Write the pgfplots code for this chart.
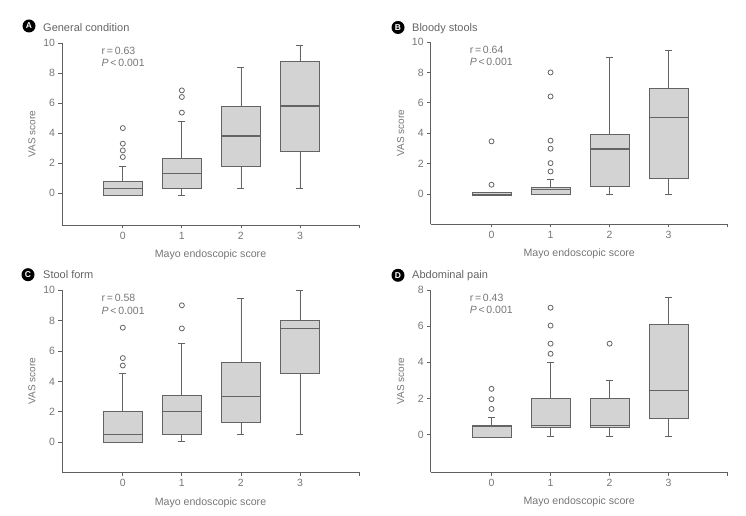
\documentclass[border=0pt]{standalone}
\usepackage{pgfplots}
\pgfplotsset{compat=1.18}
\usepgfplotslibrary{statistics}
\usepackage{fontspec}
\setmainfont{Liberation Sans}
\definecolor{axisgray}{HTML}{606060}
\definecolor{boxedge}{HTML}{646464}
\definecolor{boxfill}{HTML}{D3D3D3}
\definecolor{textgray}{HTML}{767676}
\pgfplotsset{
 panel/.style={
  scale only axis, width=297pt, height=182pt,
  xmin=-1.03, xmax=4.0,
  axis lines*=left,
  axis line style={draw=axisgray, line width=0.8pt},
  xtick={0,1,2,3,4}, xticklabels={0,1,2,3,{}},
  tick style={draw=axisgray, line width=0.8pt},
  tick align=outside, major tick length=3.5pt,
  /pgf/number format/assume math mode=true,
  tick label style={font=\fontsize{10.5}{12}\selectfont, text=textgray},
  xlabel={Mayo endoscopic score}, ylabel={VAS score},
  every axis x label/.style={at={(axis description cs:0.5,0)}, yshift=-30pt, anchor=center, font=\fontsize{10.6}{12}\selectfont, text=textgray},
  every axis y label/.style={at={(axis description cs:0,0.5)}, xshift=-30pt, rotate=90, anchor=center, font=\fontsize{10}{12}\selectfont, text=textgray},
  boxplot/draw direction=y,
  boxplot/box extend=0.66, boxplot/whisker extend=0.12,
  clip=false,
 },
 bp/.style={draw=boxedge, fill=boxfill, line width=0.8pt, mark=o, mark size=2.5pt,
   mark options={draw=boxedge, line width=0.8pt, fill=none},
   boxplot/every median/.style={draw=boxedge, line width=1.1pt}},
}
\tikzset{
 rnote/.style={anchor=north west, align=left, inner sep=0pt, font=\fontsize{10.5}{12.7}\selectfont, text=textgray},
 badge/.style={circle, fill=black, inner sep=0pt, minimum size=13pt, text=white, font=\bfseries\fontsize{8.5}{8.5}\selectfont},
 ptitle/.style={anchor=base west, inner sep=0pt, font=\fontsize{11}{13}\selectfont, text=textgray!85!black},
}
\begin{document}
\begin{tikzpicture}[x=1pt,y=1pt]
\useasboundingbox (0,0) rectangle (746,516);

% ---------------- A
\node[badge] at (29,490) {A};
\node[ptitle] at (43,484.5) {General condition};
\begin{axis}[panel, at={(62pt,291pt)}, anchor=south west, ymin=-2.13, ymax=10, ytick={0,2,...,10}]
\addplot[bp, boxplot prepared={draw position=0, lower whisker=-0.15, lower quartile=-0.15, median=0.33, upper quartile=0.78, upper whisker=1.8}] table[row sep=\\, y index=0]{4.33\\3.29\\2.84\\2.4\\};
\addplot[bp, boxplot prepared={draw position=1, lower whisker=-0.15, lower quartile=0.29, median=1.33, upper quartile=2.33, upper whisker=4.8}] table[row sep=\\, y index=0]{5.36\\6.4\\6.84\\};
\addplot[bp, boxplot prepared={draw position=2, lower whisker=0.29, lower quartile=1.78, median=3.8, upper quartile=5.8, upper whisker=8.38}] coordinates {};
\addplot[bp, boxplot prepared={draw position=3, lower whisker=0.29, lower quartile=2.78, median=5.8, upper quartile=8.8, upper whisker=9.84}] coordinates {};
\node[rnote] at (axis description cs:0.133,0.98) {r\,=\,0.63\\\textit{P}\,<\,0.001};
\end{axis}

% ---------------- B
\node[badge] at (398,488.5) {B};
\node[ptitle] at (412,484.5) {Bloody stools};
\begin{axis}[panel, at={(430.7pt,292pt)}, anchor=south west, ymin=-1.96, ymax=10, ytick={0,2,...,10}]
\addplot[bp, boxplot prepared={draw position=0, lower whisker=-0.09, lower quartile=-0.09, median=0, upper quartile=0.13, upper whisker=0.13}] table[row sep=\\, y index=0]{0.62\\3.47\\};
\addplot[bp, boxplot prepared={draw position=1, lower whisker=0, lower quartile=0, median=0.33, upper quartile=0.44, upper whisker=1.0}] table[row sep=\\, y index=0]{1.49\\2.04\\2.99\\3.52\\6.42\\8.0\\};
\addplot[bp, boxplot prepared={draw position=2, lower whisker=0, lower quartile=0.5, median=2.97, upper quartile=3.96, upper whisker=8.97}] coordinates {};
\addplot[bp, boxplot prepared={draw position=3, lower whisker=0, lower quartile=1.01, median=5.01, upper quartile=6.95, upper whisker=9.45}] coordinates {};
\node[rnote] at (axis description cs:0.131,0.98) {r\,=\,0.64\\\textit{P}\,<\,0.001};
\end{axis}

% ---------------- C
\node[badge] at (28,241.3) {C};
\node[ptitle] at (43,237.3) {Stool form};
\begin{axis}[panel, at={(62pt,43.7pt)}, anchor=south west, ymin=-1.98, ymax=10, ytick={0,2,...,10}]
\addplot[bp, boxplot prepared={draw position=0, lower whisker=0, lower quartile=0, median=0.53, upper quartile=2.04, upper whisker=4.5}] table[row sep=\\, y index=0]{5.05\\5.54\\7.54\\};
\addplot[bp, boxplot prepared={draw position=1, lower whisker=0.04, lower quartile=0.5, median=2.04, upper quartile=3.08, upper whisker=6.53}] table[row sep=\\, y index=0]{7.49\\9.01\\};
\addplot[bp, boxplot prepared={draw position=2, lower whisker=0.53, lower quartile=1.32, median=3.03, upper quartile=5.27, upper whisker=9.49}] coordinates {};
\addplot[bp, boxplot prepared={draw position=3, lower whisker=0.53, lower quartile=4.53, median=7.49, upper quartile=8.04, upper whisker=10.0}] coordinates {};
\node[rnote] at (axis description cs:0.133,0.98) {r\,=\,0.58\\\textit{P}\,<\,0.001};
\end{axis}

% ---------------- D
\node[badge] at (398,240.7) {D};
\node[ptitle] at (412,237) {Abdominal pain};
\begin{axis}[panel, at={(430.7pt,44pt)}, anchor=south west, ymin=-2.07, ymax=8, ytick={0,2,...,8}]
\addplot[bp, boxplot prepared={draw position=0, lower whisker=-0.13, lower quartile=-0.13, median=0.46, upper quartile=0.5, upper whisker=0.96}] table[row sep=\\, y index=0]{1.42\\1.96\\2.53\\};
\addplot[bp, boxplot prepared={draw position=1, lower whisker=-0.1, lower quartile=0.41, median=0.48, upper quartile=1.98, upper whisker=4.01}] table[row sep=\\, y index=0]{4.47\\5.03\\6.03\\7.02\\};
\addplot[bp, boxplot prepared={draw position=2, lower whisker=-0.1, lower quartile=0.41, median=0.48, upper quartile=1.98, upper whisker=3.01}] table[row sep=\\, y index=0]{5.03\\};
\addplot[bp, boxplot prepared={draw position=3, lower whisker=-0.1, lower quartile=0.92, median=2.46, upper quartile=6.08, upper whisker=7.58}] coordinates {};
\node[rnote] at (axis description cs:0.131,0.98) {r\,=\,0.43\\\textit{P}\,<\,0.001};
\end{axis}
\end{tikzpicture}
\end{document}
